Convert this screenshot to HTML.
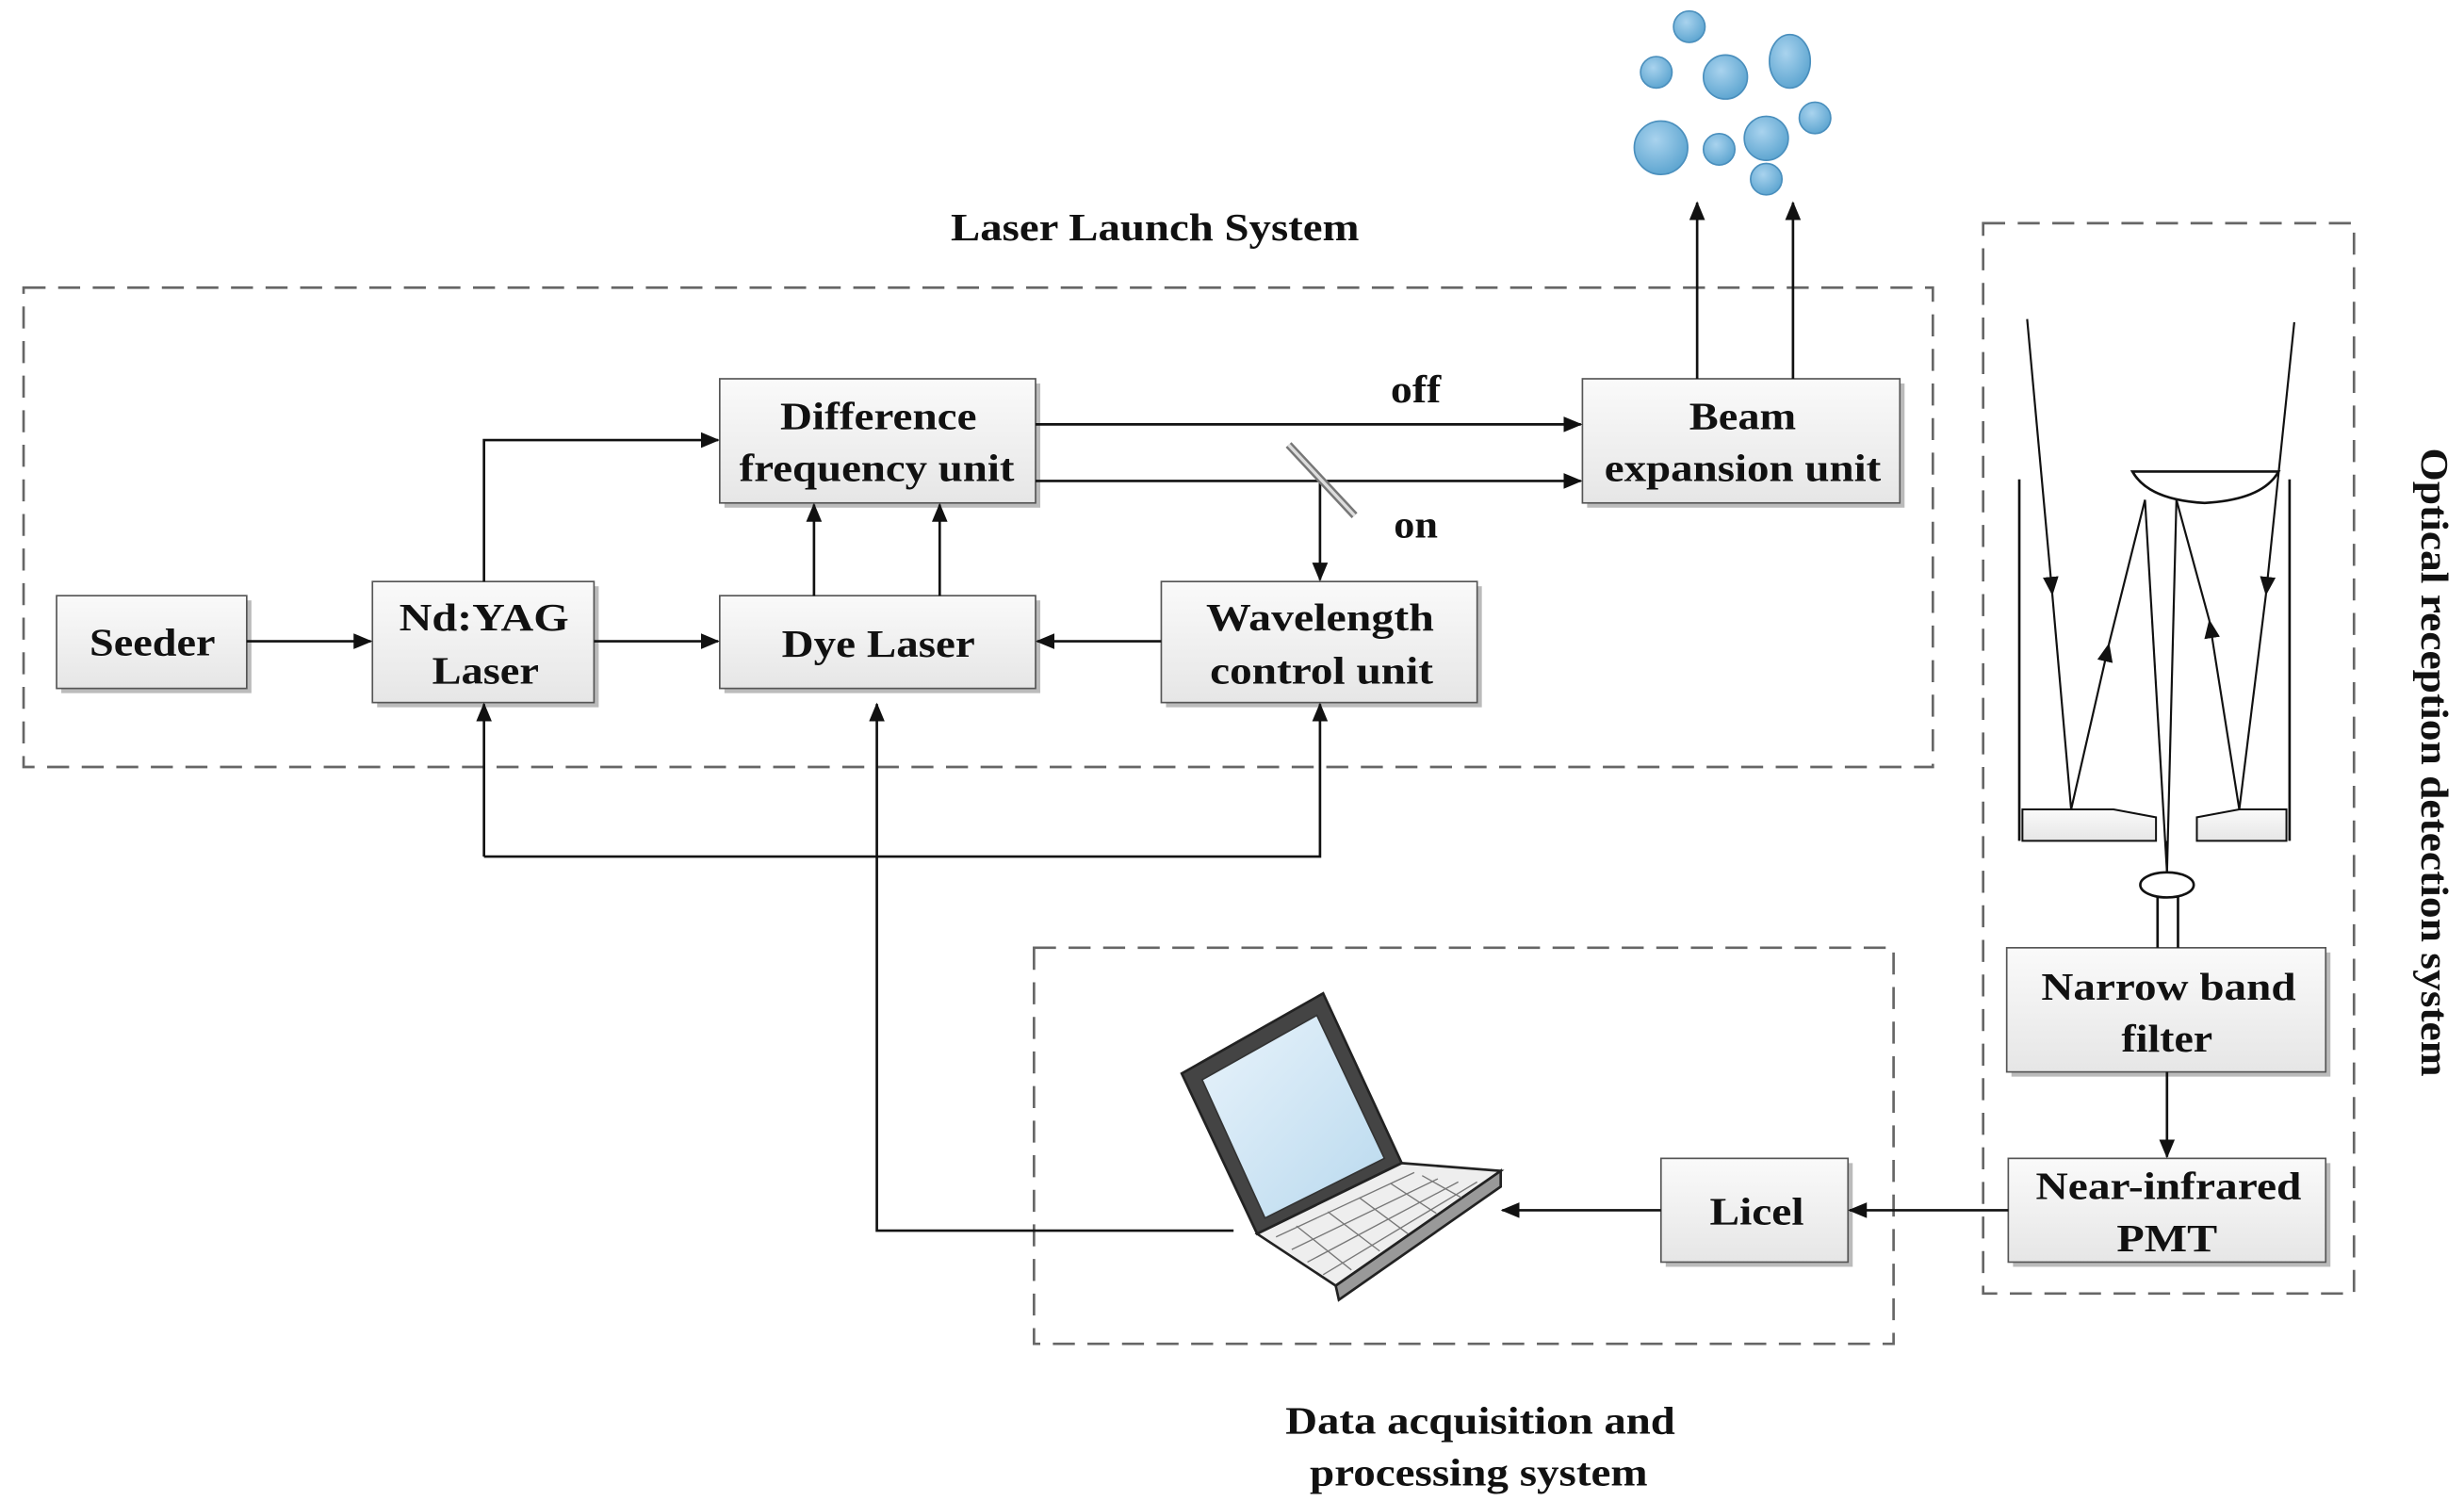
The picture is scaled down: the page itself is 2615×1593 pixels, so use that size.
<!DOCTYPE html>
<html><head><meta charset="utf-8"><style>
html,body{margin:0;padding:0;background:#fff;}
svg{display:block;}
text{font-family:"Liberation Serif",serif;font-weight:bold;fill:#111;}
</style></head><body>
<svg width="2615" height="1593" viewBox="0 0 1568 955" preserveAspectRatio="none" xmlns="http://www.w3.org/2000/svg">
<defs>
<linearGradient id="g" x1="0" y1="0" x2="0" y2="1"><stop offset="0" stop-color="#fafafa"/><stop offset="1" stop-color="#e6e6e6"/></linearGradient>
<radialGradient id="b" cx="0.4" cy="0.35" r="0.7"><stop offset="0" stop-color="#a9d3ee"/><stop offset="1" stop-color="#5aa3cf"/></radialGradient>
<linearGradient id="scr" x1="0" y1="0" x2="1" y2="1"><stop offset="0" stop-color="#e8f3fb"/><stop offset="1" stop-color="#b9d9ee"/></linearGradient>
<marker id="a" markerWidth="12" markerHeight="10" refX="11" refY="5" orient="auto" markerUnits="userSpaceOnUse"><path d="M0,0 L12,5 L0,10 Z" fill="#111"/></marker>
</defs>
<g fill="none" stroke="#666" stroke-width="1.6" stroke-dasharray="14,8">
<rect x="15" y="183" width="1215" height="305"/>
<rect x="658" y="603" width="547" height="252"/>
<rect x="1262" y="142" width="236" height="681"/>
</g>
<g stroke="#555" stroke-width="1" fill="url(#g)">
<rect x="461" y="244" width="201" height="79" fill="#bbb" stroke="none"/>
<rect x="458" y="241" width="201" height="79"/>
<rect x="1010" y="244" width="202" height="79" fill="#bbb" stroke="none"/>
<rect x="1007" y="241" width="202" height="79"/>
<rect x="39" y="382" width="121" height="59" fill="#bbb" stroke="none"/>
<rect x="36" y="379" width="121" height="59"/>
<rect x="240" y="373" width="141" height="77" fill="#bbb" stroke="none"/>
<rect x="237" y="370" width="141" height="77"/>
<rect x="461" y="382" width="201" height="59" fill="#bbb" stroke="none"/>
<rect x="458" y="379" width="201" height="59"/>
<rect x="742" y="373" width="201" height="77" fill="#bbb" stroke="none"/>
<rect x="739" y="370" width="201" height="77"/>
<rect x="1060" y="740" width="119" height="66" fill="#bbb" stroke="none"/>
<rect x="1057" y="737" width="119" height="66"/>
<rect x="1280" y="606" width="203" height="79" fill="#bbb" stroke="none"/>
<rect x="1277" y="603" width="203" height="79"/>
<rect x="1281" y="740" width="202" height="66" fill="#bbb" stroke="none"/>
<rect x="1278" y="737" width="202" height="66"/>
</g>
<g font-size="25" text-anchor="middle" lengthAdjust="spacingAndGlyphs">
<text x="735" y="153" textLength="260" lengthAdjust="spacingAndGlyphs">Laser Launch System</text>
<text x="559" y="273" textLength="125" lengthAdjust="spacingAndGlyphs">Difference</text>
<text x="558" y="306" textLength="175" lengthAdjust="spacingAndGlyphs">frequency unit</text>
<text x="1109" y="273" textLength="68" lengthAdjust="spacingAndGlyphs">Beam</text>
<text x="1109" y="306" textLength="176" lengthAdjust="spacingAndGlyphs">expansion unit</text>
<text x="97" y="417" textLength="80" lengthAdjust="spacingAndGlyphs">Seeder</text>
<text x="308" y="401" textLength="108" lengthAdjust="spacingAndGlyphs">Nd:YAG</text>
<text x="309" y="435" textLength="68" lengthAdjust="spacingAndGlyphs">Laser</text>
<text x="559" y="418" textLength="123" lengthAdjust="spacingAndGlyphs">Dye Laser</text>
<text x="840" y="401" textLength="145" lengthAdjust="spacingAndGlyphs">Wavelength</text>
<text x="841" y="435" textLength="142" lengthAdjust="spacingAndGlyphs">control unit</text>
<text x="901" y="256" textLength="32" lengthAdjust="spacingAndGlyphs">off</text>
<text x="901" y="342" textLength="28" lengthAdjust="spacingAndGlyphs">on</text>
<text x="1118" y="779" textLength="60" lengthAdjust="spacingAndGlyphs">Licel</text>
<text x="1380" y="636" textLength="162" lengthAdjust="spacingAndGlyphs">Narrow band</text>
<text x="1379" y="669" textLength="58" lengthAdjust="spacingAndGlyphs">filter</text>
<text x="1380" y="763" textLength="169" lengthAdjust="spacingAndGlyphs">Near-infrared</text>
<text x="1379" y="796" textLength="64" lengthAdjust="spacingAndGlyphs">PMT</text>
<text x="942" y="912" textLength="248" lengthAdjust="spacingAndGlyphs">Data acquisition and</text>
<text x="941" y="945" textLength="215" lengthAdjust="spacingAndGlyphs">processing system</text>
<text transform="translate(1541,485) rotate(90)" textLength="400" lengthAdjust="spacingAndGlyphs">Optical reception detection system</text>
</g>
<g stroke="#111" stroke-width="1.6" fill="none" marker-end="url(#a)">
<line x1="157" y1="408" x2="236" y2="408"/>
<line x1="378" y1="408" x2="457" y2="408"/>
<line x1="739" y1="408" x2="660" y2="408"/>
<polyline points="308,370 308,280 457,280"/>
<line x1="518" y1="379" x2="518" y2="321"/>
<line x1="598" y1="379" x2="598" y2="321"/>
<line x1="659" y1="270" x2="1006" y2="270"/>
<line x1="659" y1="306" x2="1006" y2="306"/>
<line x1="840" y1="306" x2="840" y2="369"/>
<line x1="1080" y1="241" x2="1080" y2="129"/>
<line x1="1141" y1="241" x2="1141" y2="129"/>
<polyline points="308,545 308,448"/>
<polyline points="308,545 840,545 840,448"/>
<polyline points="785,783 558,783 558,448"/>
<line x1="1057" y1="770" x2="956" y2="770"/>
<line x1="1278" y1="770" x2="1177" y2="770"/>
<line x1="1379" y1="682" x2="1379" y2="736"/>
</g>
<line x1="820" y1="283" x2="862" y2="328" stroke="#777" stroke-width="5"/>
<line x1="820" y1="283" x2="862" y2="328" stroke="#ddd" stroke-width="2"/>
<g fill="url(#b)" stroke="#4a8fbd" stroke-width="1">
<circle cx="1075" cy="17" r="10"/>
<circle cx="1054" cy="46" r="10"/>
<circle cx="1098" cy="49" r="14"/>
<ellipse cx="1139" cy="39" rx="13" ry="17"/>
<circle cx="1057" cy="94" r="17"/>
<circle cx="1094" cy="95" r="10"/>
<circle cx="1124" cy="88" r="14"/>
<circle cx="1155" cy="75" r="10"/>
<circle cx="1124" cy="114" r="10"/>
</g>
<g stroke="#111" stroke-width="1.6" fill="none">
<line x1="1285" y1="305" x2="1285" y2="535"/>
<line x1="1457" y1="305" x2="1457" y2="535"/>
<path d="M1357,300 L1450,300 Q1440,318 1403,320 Q1367,318 1357,300 Z" fill="#fff"/>
<path d="M1287,515 L1345,515 L1372,520 L1372,535 L1287,535 Z" fill="url(#g)" stroke-width="1.2"/>
<path d="M1398,520 L1425,515 L1455,515 L1455,535 L1398,535 Z" fill="url(#g)" stroke-width="1.2"/>
<line x1="1373" y1="570" x2="1373" y2="603"/>
<line x1="1386" y1="570" x2="1386" y2="603"/>
<ellipse cx="1379" cy="563" rx="17" ry="8" fill="#fff"/>
<line x1="1379" y1="535" x2="1379" y2="555" stroke-width="1"/>
<g stroke-width="1.3" marker-end="url(#a)">
<line x1="1290" y1="203" x2="1306" y2="378"/>
<line x1="1318" y1="515" x2="1342" y2="410"/>
<line x1="1460" y1="205" x2="1442" y2="378"/>
<line x1="1425" y1="515" x2="1406" y2="395"/>
</g>
<g stroke-width="1.3">
<line x1="1306" y1="378" x2="1318" y2="515"/>
<line x1="1342" y1="410" x2="1365" y2="318"/>
<line x1="1365" y1="318" x2="1379" y2="555"/>
<line x1="1442" y1="378" x2="1425" y2="515"/>
<line x1="1406" y1="395" x2="1385" y2="318"/>
<line x1="1385" y1="318" x2="1379" y2="555"/>
</g>
</g>
<g stroke="#222" stroke-width="1.6">
<path d="M752,683 L842,632 L892,740 L800,785 Z" fill="#444"/>
<path d="M765,687 L838,646 L881,737 L805,775 Z" fill="url(#scr)" stroke="#333" stroke-width="1"/>
<path d="M800,785 L892,740 L955,745 L850,818 Z" fill="#eee"/>
<path d="M850,818 L955,745 L955,755 L852,827 Z" fill="#999"/>
<g stroke="#777" stroke-width="0.8">
<line x1="812" y1="787" x2="900" y2="746"/>
<line x1="822" y1="795" x2="915" y2="750"/>
<line x1="832" y1="803" x2="928" y2="752"/>
<line x1="842" y1="811" x2="940" y2="752"/>
<line x1="825" y1="780" x2="860" y2="808"/>
<line x1="845" y1="771" x2="878" y2="796"/>
<line x1="865" y1="762" x2="896" y2="785"/>
<line x1="885" y1="753" x2="914" y2="772"/>
<line x1="905" y1="748" x2="930" y2="762"/>
</g>
</g>
</svg>
</body></html>
